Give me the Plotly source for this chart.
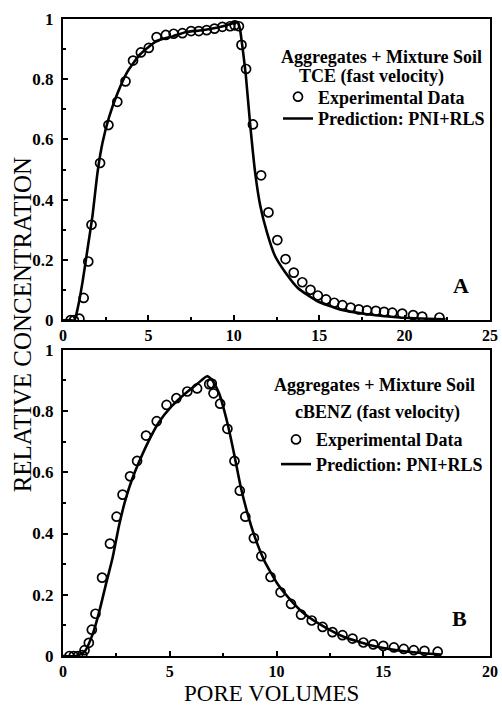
import plotly.graph_objects as go

# ---- Panel A: TCE ----
tce_exp_x = [0.44, 0.64, 0.96, 1.21, 1.48, 1.67, 2.17, 2.66, 3.18, 3.66, 4.1, 4.56, 5.02, 5.48, 6.02,
             6.48, 6.99, 7.5, 7.95, 8.41, 8.87, 9.33, 9.78, 10.05, 10.3, 10.45, 10.72, 11.12, 11.6,
             12.03, 12.55, 13.03, 13.51, 14.01, 14.49, 14.92, 15.4, 15.88, 16.36, 16.84, 17.32, 17.8,
             18.32, 18.8, 19.28, 19.86, 20.5, 21.03, 22.04]
tce_exp_y = [0, 0, 0.005, 0.074, 0.195, 0.317, 0.522, 0.648, 0.725, 0.793, 0.862, 0.889, 0.904, 0.94,
             0.947, 0.951, 0.953, 0.96, 0.96, 0.963, 0.968, 0.974, 0.976, 0.979, 0.976, 0.914, 0.834,
             0.65, 0.481, 0.358, 0.266, 0.203, 0.158, 0.126, 0.101, 0.082, 0.069, 0.058, 0.05, 0.042,
             0.036, 0.033, 0.031, 0.028, 0.025, 0.022, 0.017, 0.012, 0.009]
tce_pred_x = [0, 0.4, 0.67, 0.87, 1.15, 1.44, 1.73, 2.02, 2.31, 2.7, 3.18, 3.75, 4.52, 5.48, 6.45,
              7.22, 8.0, 8.6, 9.3, 9.9, 10.2, 10.35, 10.5, 10.7, 10.95, 11.25, 11.55, 11.95, 12.4,
              13.0, 13.75, 14.9, 16.2, 17.8, 19.7, 22.4]
tce_pred_y = [0, 0, 0, 0.042, 0.129, 0.238, 0.348, 0.49, 0.588, 0.675, 0.752, 0.823, 0.883, 0.927,
              0.943, 0.957, 0.962, 0.967, 0.975, 0.985, 0.99, 0.97, 0.91, 0.815, 0.655, 0.49, 0.38,
              0.29, 0.215, 0.16, 0.107, 0.063, 0.036, 0.02, 0.009, 0.003]

# ---- Panel B: cBENZ ----
cbenz_exp_x = [0.3, 0.5, 0.7, 0.9, 1.01, 1.21, 1.35, 1.52, 1.83, 2.2, 2.51, 2.79, 3.14, 3.47, 3.89,
               4.39, 4.85, 5.31, 5.82, 6.28, 6.85, 6.97, 7.05, 7.36, 7.7, 8.03, 8.28, 8.54, 8.94,
               9.29, 9.72, 10.19, 10.68, 11.15, 11.65, 12.16, 12.62, 13.09, 13.56, 14.07, 14.53,
               15.0, 15.5, 15.96, 16.43, 16.93, 17.55]
cbenz_exp_y = [0, 0, 0, 0.003, 0.019, 0.043, 0.086, 0.138, 0.256, 0.367, 0.455, 0.527, 0.587, 0.637,
               0.72, 0.767, 0.82, 0.842, 0.864, 0.874, 0.888, 0.89, 0.858, 0.824, 0.742, 0.637, 0.54,
               0.455, 0.385, 0.326, 0.258, 0.208, 0.17, 0.135, 0.116, 0.095, 0.078, 0.068, 0.057,
               0.044, 0.038, 0.033, 0.028, 0.023, 0.019, 0.017, 0.014]
cbenz_pred_x = [0, 0.6, 1.01, 1.4, 1.71, 2.01, 2.32, 2.63, 2.94, 3.24, 3.55, 4.01, 4.47, 5.08, 5.7,
                6.31, 6.74, 7.0, 7.31, 7.7, 8.0, 8.31, 8.62, 8.98, 9.44, 10.06, 10.68, 11.3, 12.24,
                13.17, 14.41, 15.65, 16.9, 17.7]
cbenz_pred_y = [0, 0, 0.014, 0.073, 0.148, 0.234, 0.32, 0.428, 0.514, 0.578, 0.632, 0.702, 0.761,
                0.815, 0.856, 0.89, 0.914, 0.901, 0.858, 0.761, 0.665, 0.557, 0.471, 0.39, 0.31,
                0.234, 0.181, 0.138, 0.095, 0.062, 0.035, 0.019, 0.009, 0.005]

x_ticks_a = [0, 5, 10, 15, 20, 25]
x_ticks_b = [0, 5, 10, 15, 20]
y_ticks = [0, 0.2, 0.4, 0.6, 0.8, 1]

FONT = "Liberation Serif, Times New Roman, serif"
W, H = 502, 705
ML, MR, MT, MB = 63, 10, 11, 49
PW, PH = W - ML - MR, H - MT - MB


def px(xp):
    return (xp - ML) / PW


def py(yp):
    return (H - MB - yp) / PH


fig = go.Figure()

marker = dict(symbol="circle-open", size=9, color="black", line=dict(width=1.7, color="black"))
line = dict(color="black", width=2.6, shape="spline", smoothing=0.5)

fig.add_trace(go.Scatter(x=tce_exp_x, y=tce_exp_y, mode="markers", marker=marker,
                         name="Experimental Data", xaxis="x", yaxis="y", legend="legend"))
fig.add_trace(go.Scatter(x=tce_pred_x, y=tce_pred_y, mode="lines", line=line,
                         name="Prediction: PNI+RLS", xaxis="x", yaxis="y", legend="legend2"))
fig.add_trace(go.Scatter(x=cbenz_exp_x, y=cbenz_exp_y, mode="markers", marker=marker,
                         name="Experimental Data", xaxis="x2", yaxis="y2", legend="legend3"))
fig.add_trace(go.Scatter(x=cbenz_pred_x, y=cbenz_pred_y, mode="lines", line=line,
                         name="Prediction: PNI+RLS", xaxis="x2", yaxis="y2", legend="legend4"))

ytickfont = dict(family=FONT, size=17, color="black", weight="bold")
xtickfont = dict(family=FONT, size=16, color="black", weight="bold")
axcommon = dict(showline=True, linecolor="black", linewidth=2, mirror=True, ticks="inside",
                ticklen=5, tickwidth=1.5, tickcolor="black", showgrid=False, zeroline=False,
                ticklabeloverflow="allow")

top_dom = [py(316), 1.0]
bot_dom = [0.0, py(346)]

leg_font = dict(family=FONT, size=18, color="black", weight="bold")


def leg(xp, yp):
    return dict(x=px(xp), y=py(yp), xanchor="left", yanchor="middle", bgcolor="rgba(0,0,0,0)",
                font=leg_font, itemwidth=30, borderwidth=0)


fig.update_layout(
    width=W, height=H,
    margin=dict(l=ML, r=MR, t=MT, b=MB),
    paper_bgcolor="white", plot_bgcolor="white",
    font=dict(family=FONT, color="black"),
    xaxis=dict(range=[0, 25], tickvals=x_ticks_a, domain=[0, 1], anchor="y", automargin=False,
               tickfont=xtickfont,
               minor=dict(dtick=2.5, ticks="inside", ticklen=3, tickcolor="black"), **axcommon),
    yaxis=dict(range=[0, 1], tickvals=y_ticks, domain=top_dom, anchor="x", ticklabelstandoff=4,
               tickfont=ytickfont,
               minor=dict(dtick=0.1, ticks="inside", ticklen=3, tickcolor="black"), **axcommon),
    xaxis2=dict(range=[0, 20], tickvals=x_ticks_b, domain=[0, 1], anchor="y2", automargin=False,
                tickfont=xtickfont,
                minor=dict(dtick=2.5, ticks="inside", ticklen=3, tickcolor="black"), **axcommon),
    yaxis2=dict(range=[0, 1], tickvals=y_ticks, domain=bot_dom, anchor="x2", ticklabelstandoff=4,
                tickfont=ytickfont,
                minor=dict(dtick=0.1, ticks="inside", ticklen=3, tickcolor="black"), **axcommon),
    legend=leg(279, 90),
    legend2=leg(279, 112),
    legend3=leg(277, 437),
    legend4=leg(277, 462),
    showlegend=True,
)

ann_font = dict(family=FONT, size=18, color="black", weight="bold")
big_font = dict(family=FONT, size=22, color="black", weight="bold")
annotations = [
    dict(text="Aggregates + Mixture Soil", x=px(383), y=py(49), font=ann_font),
    dict(text="TCE (fast velocity)", x=px(373), y=py(69), font=ann_font),
    dict(text="A", x=px(463), y=py(281), font=big_font),
    dict(text="Aggregates + Mixture Soil", x=px(376), y=py(382), font=ann_font),
    dict(text="cBENZ (fast velocity)", x=px(379), y=py(409), font=ann_font),
    dict(text="B", x=px(461), y=py(618), font=big_font),
    dict(text="RELATIVE CONCENTRATION", x=px(22), y=py(321), textangle=-90,
         font=dict(family=FONT, size=25, color="black")),
    dict(text="PORE VOLUMES", x=px(272), y=py(694), font=dict(family=FONT, size=23, color="black")),
]
for a in annotations:
    a.update(xref="paper", yref="paper", showarrow=False, xanchor="center", yanchor="middle")
fig.update_layout(annotations=annotations)

fig.write_html("out.html", config={"displayModeBar": False},
               post_script="document.body.style.margin='0px';document.body.style.overflow='hidden';")
